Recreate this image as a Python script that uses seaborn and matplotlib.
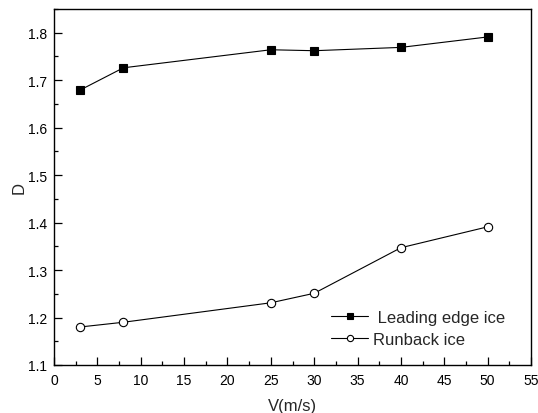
import pandas as pd
import numpy as np
import matplotlib.pyplot as plt
import seaborn as sns
from matplotlib.ticker import MultipleLocator

# values
velocity = [3, 8, 25, 30, 40, 50]
leading_edge = [1.679, 1.726, 1.764, 1.762, 1.769, 1.791]
runback = [1.180, 1.190, 1.231, 1.251, 1.347, 1.391]

data = pd.DataFrame({
    'V': velocity * 2,
    'D': leading_edge + runback,
    'type': ['Leading edge ice'] * len(velocity) + ['Runback ice'] * len(velocity),
})

sns.set_style('ticks')
plt.rcParams['font.family'] = ['Liberation Sans', 'DejaVu Sans']

fig = plt.figure(figsize=(5.38, 4.14), dpi=100)
ax = fig.add_axes([0.1004, 0.116, 0.8866, 0.86])

sns.lineplot(data=data, x='V', y='D', hue='type', style='type',
             markers={'Leading edge ice': 's', 'Runback ice': 'o'},
             dashes=False, palette=['black', 'black'],
             markersize=6, linewidth=0.8, ax=ax)

# open circles for runback ice
for line in ax.lines:
    if line.get_marker() == 'o':
        line.set_markerfacecolor('white')
    line.set_markeredgecolor('black')
    line.set_markeredgewidth(0.8)

ax.set_xlim(0, 55)
ax.set_ylim(1.1, 1.85)
ax.xaxis.set_major_locator(MultipleLocator(5))
ax.xaxis.set_minor_locator(MultipleLocator(2.5))
ax.yaxis.set_minor_locator(MultipleLocator(0.05))
ax.set_yticks(np.arange(1.1, 1.81, 0.1))
ax.set_yticklabels([f'{v:.1f}' for v in np.arange(1.1, 1.81, 0.1)])

ax.tick_params(which='both', direction='in', labelsize=10, colors='black')
ax.tick_params(axis='x', pad=6)
ax.tick_params(axis='y', pad=5)
ax.tick_params(which='major', length=6, width=0.9)
ax.tick_params(which='minor', length=3, width=0.9)
for side in ['left', 'bottom', 'top', 'right']:
    ax.spines[side].set_visible(True)
    ax.spines[side].set_linewidth(1.0)
    ax.spines[side].set_color('black')

ax.set_xlabel('V(m/s)', fontsize=12, labelpad=8)
ax.set_ylabel('D', fontsize=12, labelpad=1)

handles, labels = ax.get_legend_handles_labels()
for h in handles:
    h.set_markeredgecolor('black')
    if h.get_marker() == 'o':
        h.set_markerfacecolor('white')
ax.legend(handles, [' Leading edge ice', 'Runback ice'], frameon=False,
          fontsize=12, loc='lower right', bbox_to_anchor=(0.977, 0.008),
          handlelength=2.2, handletextpad=0.3, labelspacing=0.43,
          markerscale=0.75)

fig.savefig('out.png', dpi=100)
